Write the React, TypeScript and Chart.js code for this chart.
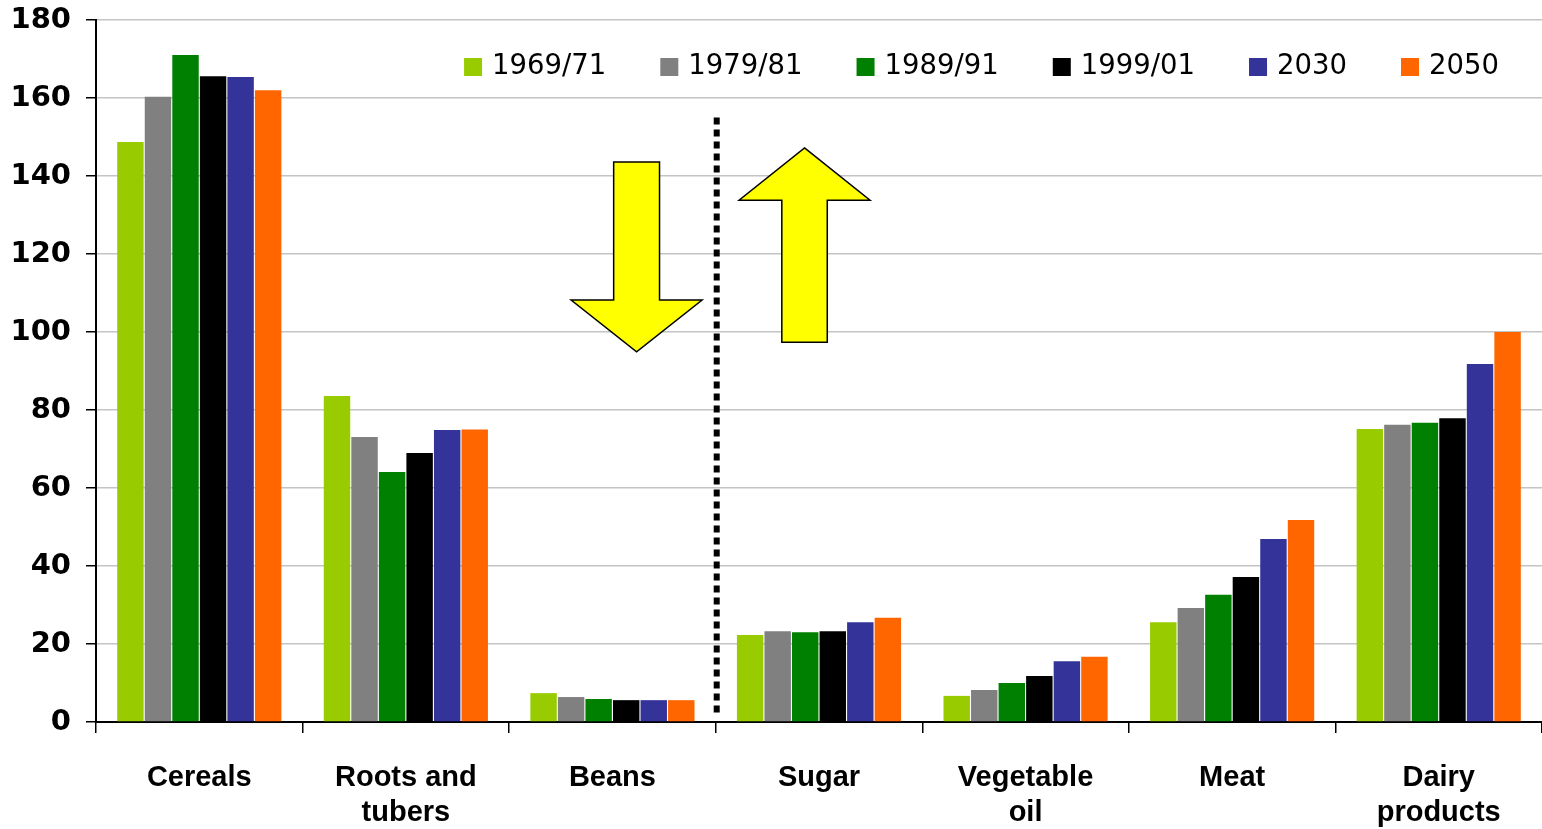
import React, { useEffect, useRef } from "react";
import { Chart, registerables } from "chart.js";

Chart.register(...registerables);

const categories: (string | string[])[] = [
  "Cereals",
  ["Roots and", "tubers"],
  "Beans",
  "Sugar",
  ["Vegetable", "oil"],
  "Meat",
  ["Dairy", "products"],
];

const seriesLabels = ["1969/71", "1979/81", "1989/91", "1999/01", "2030", "2050"];
const seriesColors = ["#99CC00", "#808080", "#008000", "#000000", "#333399", "#FF6600"];

const v1969 = [148.7, 83.6, 7.4, 22.3, 6.7, 25.6, 75.1];
const v1979 = [160.3, 73.1, 6.4, 23.3, 8.2, 29.2, 76.2];
const v1989 = [171.0, 64.1, 5.9, 23.0, 10.0, 32.6, 76.7];
const v1999 = [165.6, 69.0, 5.6, 23.3, 11.8, 37.2, 77.9];
const v2030 = [165.4, 74.9, 5.6, 25.6, 15.6, 46.9, 91.8];
const v2050 = [162.0, 75.0, 5.6, 26.7, 16.7, 51.8, 100.0];
const seriesValues = [v1969, v1979, v1989, v1999, v2030, v2050];

const yTicks = [0, 20, 40, 60, 80, 100, 120, 140, 160, 180];

// Annotation geometry in data units (x in category index units, y in value units)
const downArrow = { cx: 2.117, shaftHalf: 0.111, headHalf: 0.317, top: 143.6, headBase: 108.2, tip: 94.9 };
const upArrow = { cx: 2.93, shaftHalf: 0.11, headHalf: 0.317, tip: 147.2, headBase: 133.8, bottom: 97.4 };
const divider = { between: [2, 3], top: 155, bottom: 1.3 };

const annotationPlugin = {
  id: "annotations",
  afterDatasetsDraw(chart: any) {
    const { ctx } = chart;
    const xs = chart.scales.x;
    const ys = chart.scales.y;
    const X = (v: number) => xs.getPixelForValue(v);
    const Y = (v: number) => ys.getPixelForValue(v);
    ctx.save();
    // dotted divider
    const dx = (X(divider.between[0]) + X(divider.between[1])) / 2 + 1;
    ctx.strokeStyle = "#000";
    ctx.lineWidth = 6;
    ctx.setLineDash([7, 5]);
    ctx.beginPath();
    ctx.moveTo(dx, Y(divider.top));
    ctx.lineTo(dx, Y(divider.bottom));
    ctx.stroke();
    ctx.setLineDash([]);

    // down arrow
    const d = downArrow;
    ctx.beginPath();
    ctx.moveTo(X(d.cx - d.shaftHalf), Y(d.top));
    ctx.lineTo(X(d.cx + d.shaftHalf), Y(d.top));
    ctx.lineTo(X(d.cx + d.shaftHalf), Y(d.headBase));
    ctx.lineTo(X(d.cx + d.headHalf), Y(d.headBase));
    ctx.lineTo(X(d.cx), Y(d.tip));
    ctx.lineTo(X(d.cx - d.headHalf), Y(d.headBase));
    ctx.lineTo(X(d.cx - d.shaftHalf), Y(d.headBase));
    ctx.closePath();
    ctx.fillStyle = "#FFFF00";
    ctx.fill();
    ctx.lineWidth = 1.5;
    ctx.strokeStyle = "#000";
    ctx.stroke();

    // up arrow
    const u = upArrow;
    ctx.beginPath();
    ctx.moveTo(X(u.cx), Y(u.tip));
    ctx.lineTo(X(u.cx + u.headHalf), Y(u.headBase));
    ctx.lineTo(X(u.cx + u.shaftHalf), Y(u.headBase));
    ctx.lineTo(X(u.cx + u.shaftHalf), Y(u.bottom));
    ctx.lineTo(X(u.cx - u.shaftHalf), Y(u.bottom));
    ctx.lineTo(X(u.cx - u.shaftHalf), Y(u.headBase));
    ctx.lineTo(X(u.cx - u.headHalf), Y(u.headBase));
    ctx.closePath();
    ctx.fillStyle = "#FFFF00";
    ctx.fill();
    ctx.stroke();

    // legend inside chart area, top right
    ctx.font = "27.5px 'DejaVu Sans'";
    ctx.textBaseline = "middle";
    const box = 18;
    const gapBoxText = 10;
    const gapItems = 54;
    const widths = seriesLabels.map((l) => ctx.measureText(l).width);
    const total = widths.reduce((a, w) => a + box + gapBoxText + w, 0) + gapItems * (seriesLabels.length - 1);
    let x = chart.chartArea.right - 43 - total;
    const yMid = chart.chartArea.top + 47;
    seriesLabels.forEach((l, i) => {
      ctx.fillStyle = seriesColors[i];
      ctx.fillRect(x, yMid - box / 2, box, box);
      ctx.fillStyle = "#000";
      ctx.textAlign = "left";
      ctx.fillText(l, x + box + gapBoxText, yMid);
      x += box + gapBoxText + widths[i] + gapItems;
    });
    ctx.restore();
  },
};

export default function App() {
  const ref = useRef<HTMLCanvasElement | null>(null);
  useEffect(() => {
    document.body.style.margin = "0";
    const canvas = ref.current;
    if (!canvas) return;
    const chart = new Chart(canvas, {
      type: "bar",
      data: {
        labels: categories as any,
        datasets: seriesLabels.map((label, i) => ({
          label,
          data: seriesValues[i],
          backgroundColor: seriesColors[i],
          borderWidth: 0,
          categoryPercentage: 0.8,
          barPercentage: 0.96,
        })),
      },
      options: {
        animation: false,
        responsive: true,
        maintainAspectRatio: false,
        layout: { padding: { top: 20, left: 0, right: 0, bottom: 0 } },
        plugins: {
          legend: { display: false },
          tooltip: { enabled: false },
        },
        scales: {
          x: {
            grid: {
              display: true,
              drawOnChartArea: false,
              tickLength: 11,
              tickColor: "#000",
              lineWidth: 1.5,
              offset: true,
            },
            border: { color: "#000", width: 2 },
            ticks: {
              color: "#000",
              padding: 28,
              maxRotation: 0,
              autoSkip: false,
              font: { family: "'Liberation Sans', Arial, sans-serif", size: 29, weight: "bold", lineHeight: 1.2 },
            },
            afterFit: (s: any) => {
              s.height = 107;
              s.paddingLeft = 0;
              s.paddingRight = 0;
            },
          },
          y: {
            min: 0,
            max: 180,
            afterBuildTicks: (s: any) => {
              s.ticks = yTicks.map((v) => ({ value: v }));
            },
            grid: {
              color: "#c4c4c4",
              lineWidth: 1.5,
              tickLength: 10,
              tickColor: "#000",
            },
            border: { color: "#000", width: 2 },
            ticks: {
              color: "#000",
              padding: 15,
              font: { family: "'DejaVu Sans', Verdana, sans-serif", size: 29, weight: "bold" },
            },
            afterFit: (s: any) => {
              s.width = 96;
              s.paddingTop = 0;
              s.paddingBottom = 0;
            },
          },
        },
      },
      plugins: [annotationPlugin],
    });
    return () => chart.destroy();
  }, []);
  return (
    <div style={{ width: "1542px", height: "829px", position: "relative" }}>
      <canvas ref={ref} />
    </div>
  );
}
